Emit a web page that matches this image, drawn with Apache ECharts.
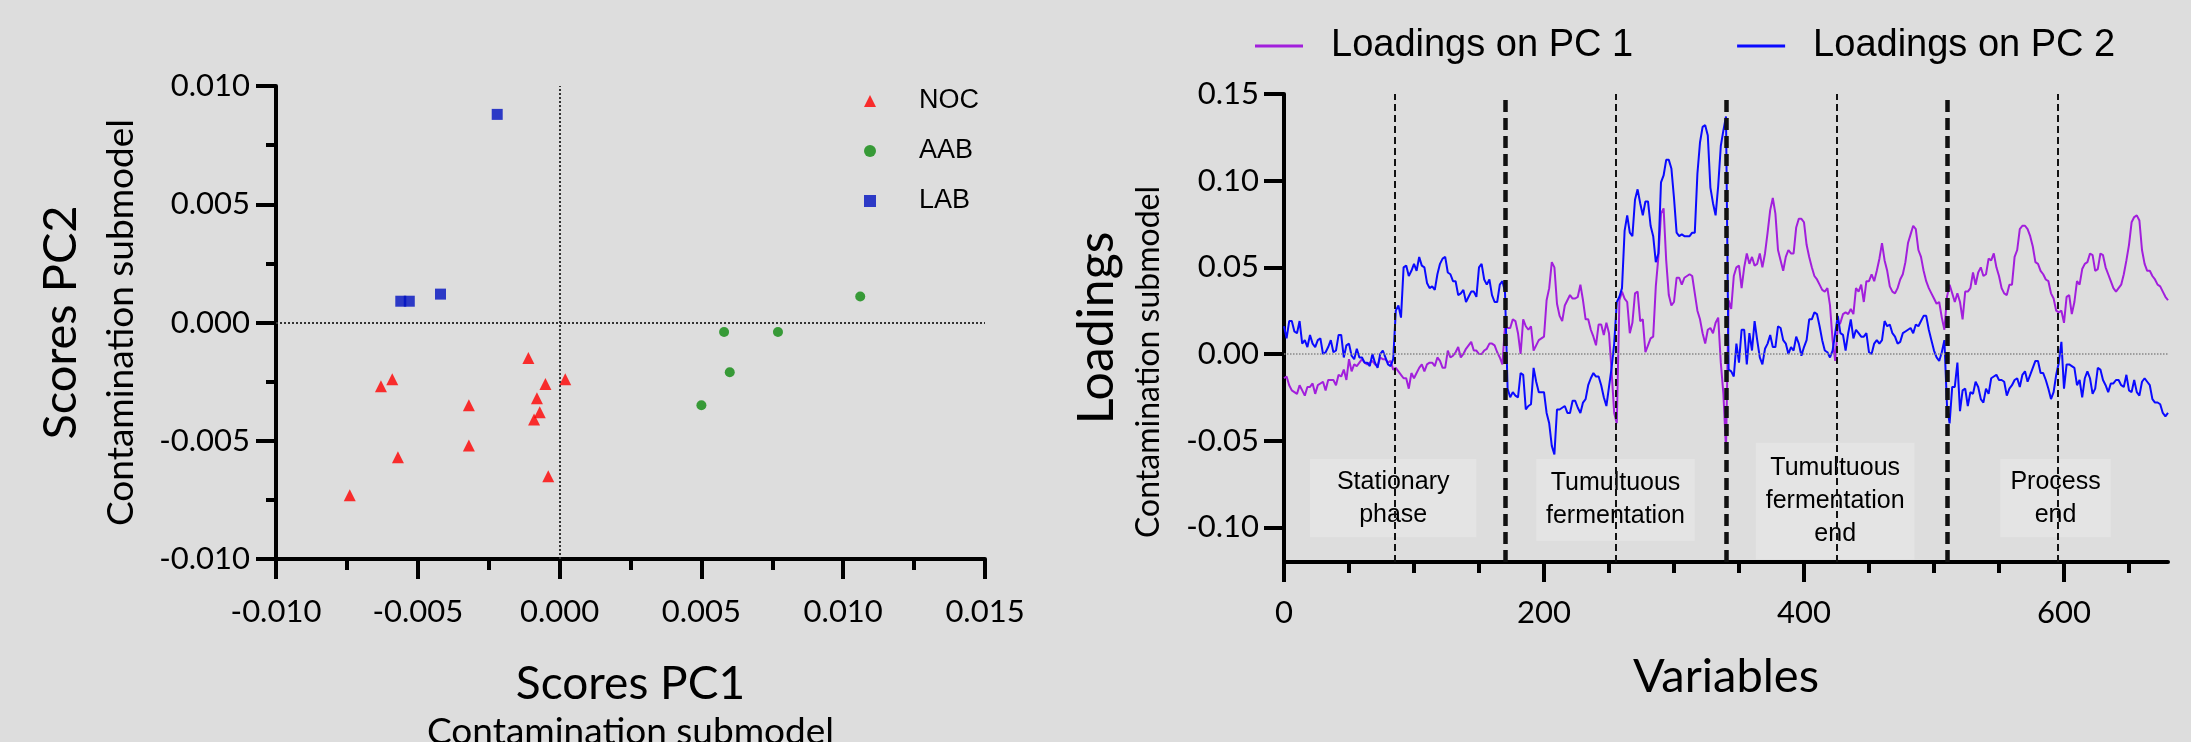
<!DOCTYPE html>
<html>
<head>
<meta charset="utf-8">
<title>Contamination submodel – scores and loadings</title>
<script src="https://cdn.jsdelivr.net/npm/echarts@6.0.0/dist/echarts.min.js"></script>
<style>
  html, body { margin: 0; padding: 0; background: #dddddd; }
  #chart { width: 2191px; height: 742px; }
</style>
</head>
<body>
<div id="chart"></div>
<script>
// scores plot: [PC1, PC2]
const NOC_SCORES = [
  [-0.0011, -0.0015], [-0.0059, -0.0024], [-0.0063, -0.0027], [-0.0005, -0.0026],
  [0.0002, -0.0024], [-0.0032, -0.0035], [-0.0008, -0.0032], [-0.0007, -0.0038],
  [-0.0009, -0.0041], [-0.0032, -0.0052], [-0.0057, -0.0057], [-0.0004, -0.0065],
  [-0.0074, -0.0073]
]
const AAB_SCORES = [[0.0106, 0.0011], [0.0058, -0.0004], [0.0077, -0.0004], [0.0060, -0.0021], [0.0050, -0.0035]]
const LAB_SCORES = [[-0.0022, 0.0088], [-0.0056, 0.0009], [-0.0053, 0.0009], [-0.0042, 0.0012]]

// loadings plot, one value every 2 variables (0 .. 680), one row per phase half
const VARIABLE_STEP = 2
const PC1_LOADINGS = [
  -0.014, -0.013, -0.018, -0.021, -0.022, -0.023, -0.018, -0.021, -0.024, -0.019, -0.019, -0.017, -0.023, -0.018, -0.017,
  -0.016, -0.021, -0.015, -0.015, -0.015, -0.018, -0.012, -0.013, -0.009, -0.015, -0.003, -0.010, -0.006, -0.007, -0.005,
  -0.003, -0.005, -0.006, -0.005, -0.004, -0.006, -0.007, -0.002, -0.003, -0.003, -0.005, -0.004, -0.009,
  -0.008, -0.010, -0.012, -0.014, -0.014, -0.020, -0.011, -0.014, -0.011, -0.008, -0.006, -0.010, -0.006, -0.005, -0.005,
  -0.007, -0.002, -0.004, -0.008, -0.008, 0.002, -0.002, -0.001, 0.001, 0.004, -0.002, 0.000, 0.003, 0.005, 0.007,
  0.002, 0.002, 0.000, 0.000, 0.002, 0.003, 0.006, 0.006, 0.005, 0.001, -0.002, -0.006,
  0.016, 0.015, 0.015, 0.020, 0.019, 0.012, 0.000, 0.020, 0.016, 0.014, 0.016, 0.002, 0.005, 0.008, 0.009,
  0.010, 0.031, 0.038, 0.053, 0.050, 0.029, 0.022, 0.019, 0.028, 0.031, 0.034, 0.032, 0.032, 0.033, 0.040,
  0.031, 0.020, 0.020, 0.014, 0.010, 0.005, 0.017, 0.017, 0.011, 0.018, 0.012, -0.010, -0.034, -0.040,
  0.031, 0.036, 0.032, 0.030, 0.012, 0.018, 0.035, 0.036, 0.019, 0.020, 0.001, 0.005, 0.009, 0.010, 0.039,
  0.056, 0.081, 0.084, 0.054, 0.034, 0.028, 0.030, 0.044, 0.044, 0.040, 0.044, 0.045, 0.046, 0.045, 0.035,
  0.025, 0.020, 0.012, 0.006, 0.014, 0.015, 0.012, 0.018, 0.021, -0.005, -0.023, -0.055,
  0.031, 0.026, 0.045, 0.050, 0.051, 0.038, 0.050, 0.058, 0.052, 0.056, 0.051, 0.052, 0.058, 0.050, 0.058,
  0.070, 0.083, 0.090, 0.081, 0.060, 0.054, 0.048, 0.056, 0.060, 0.058, 0.058, 0.073, 0.078, 0.078, 0.076,
  0.063, 0.056, 0.050, 0.045, 0.043, 0.040, 0.037, 0.036, 0.038, 0.028, 0.008, -0.004,
  0.016, 0.018, 0.023, 0.024, 0.023, 0.026, 0.023, 0.038, 0.036, 0.040, 0.030, 0.042, 0.042, 0.046, 0.042,
  0.048, 0.055, 0.064, 0.054, 0.048, 0.039, 0.036, 0.035, 0.038, 0.043, 0.046, 0.053, 0.064, 0.069, 0.074,
  0.072, 0.060, 0.056, 0.048, 0.042, 0.038, 0.035, 0.032, 0.029, 0.030, 0.021, 0.014,
  0.033, 0.040, 0.035, 0.030, 0.035, 0.030, 0.020, 0.036, 0.036, 0.038, 0.047, 0.040, 0.047, 0.050, 0.045,
  0.046, 0.055, 0.054, 0.058, 0.050, 0.045, 0.038, 0.035, 0.034, 0.040, 0.040, 0.056, 0.060, 0.072, 0.074,
  0.074, 0.072, 0.068, 0.062, 0.053, 0.052, 0.048, 0.046, 0.043, 0.042, 0.035, 0.032,
  0.025, 0.024, 0.025, 0.018, 0.033, 0.034, 0.023, 0.030, 0.042, 0.040, 0.049, 0.052, 0.053, 0.058, 0.057,
  0.048, 0.049, 0.058, 0.057, 0.050, 0.046, 0.042, 0.038, 0.036, 0.038, 0.040, 0.046, 0.054, 0.063, 0.076,
  0.079, 0.080, 0.077, 0.060, 0.052, 0.048, 0.048, 0.045, 0.043, 0.040, 0.039, 0.036, 0.033, 0.031
]
const PC2_LOADINGS = [
  0.016, 0.009, 0.019, 0.019, 0.013, 0.012, 0.019, 0.006, 0.008, 0.004, 0.011, 0.006, 0.004, 0.008, 0.009,
  0.000, 0.001, 0.004, 0.008, 0.001, 0.002, 0.011, 0.011, -0.002, 0.005, 0.006, -0.001, -0.003, 0.003, -0.002,
  -0.002, -0.005, -0.005, -0.007, 0.000, -0.005, -0.008, 0.000, 0.002, -0.002, -0.006, -0.007, -0.003,
  0.025, 0.028, 0.021, 0.050, 0.051, 0.045, 0.048, 0.052, 0.048, 0.056, 0.051, 0.050, 0.041, 0.038, 0.039,
  0.037, 0.046, 0.052, 0.055, 0.056, 0.047, 0.046, 0.042, 0.042, 0.034, 0.035, 0.037, 0.030, 0.033, 0.036,
  0.036, 0.033, 0.050, 0.052, 0.043, 0.040, 0.043, 0.034, 0.030, 0.030, 0.040, 0.042,
  0.036, -0.020, -0.025, -0.022, -0.024, -0.025, -0.011, -0.012, -0.032, -0.030, -0.029, -0.008, -0.016, -0.022, -0.022,
  -0.022, -0.034, -0.040, -0.053, -0.058, -0.032, -0.032, -0.031, -0.030, -0.034, -0.034, -0.027, -0.027, -0.031, -0.034,
  -0.028, -0.026, -0.018, -0.014, -0.011, -0.013, -0.013, -0.018, -0.025, -0.030, -0.019, -0.008, 0.006, 0.030,
  0.033, 0.038, 0.071, 0.080, 0.070, 0.068, 0.089, 0.095, 0.087, 0.080, 0.088, 0.088, 0.074, 0.068, 0.053,
  0.058, 0.099, 0.103, 0.112, 0.112, 0.107, 0.090, 0.070, 0.068, 0.069, 0.068, 0.068, 0.068, 0.070, 0.070,
  0.104, 0.122, 0.131, 0.132, 0.126, 0.096, 0.087, 0.080, 0.097, 0.120, 0.129, 0.137,
  -0.009, -0.010, -0.013, 0.006, -0.005, 0.014, 0.014, -0.006, 0.012, 0.002, 0.019, 0.008, -0.002, -0.006, 0.003,
  0.006, 0.011, 0.004, 0.004, 0.016, 0.015, 0.008, 0.006, 0.000, 0.004, 0.002, 0.010, 0.006, -0.001, 0.004,
  0.008, 0.020, 0.020, 0.024, 0.023, 0.016, 0.008, 0.002, 0.001, -0.002, 0.002, 0.012,
  0.022, 0.012, 0.011, 0.002, 0.012, 0.020, 0.009, 0.014, 0.012, 0.010, 0.010, 0.012, 0.001, 0.000, 0.006,
  0.008, 0.006, 0.008, 0.019, 0.016, 0.017, 0.012, 0.010, 0.006, 0.007, 0.012, 0.013, 0.014, 0.015, 0.012,
  0.017, 0.016, 0.019, 0.022, 0.022, 0.014, 0.008, 0.002, -0.002, -0.004, 0.001, 0.008,
  -0.030, -0.040, -0.019, -0.019, -0.005, -0.033, -0.021, -0.020, -0.030, -0.022, -0.023, -0.016, -0.019, -0.026, -0.028,
  -0.020, -0.023, -0.014, -0.013, -0.012, -0.015, -0.015, -0.016, -0.024, -0.020, -0.018, -0.015, -0.014, -0.019, -0.012,
  -0.010, -0.016, -0.012, -0.008, -0.004, -0.004, -0.011, -0.011, -0.015, -0.020, -0.026, -0.022,
  -0.012, -0.005, 0.007, -0.020, -0.006, -0.006, -0.007, -0.008, -0.018, -0.015, -0.025, -0.014, -0.010, -0.014, -0.023,
  -0.020, -0.008, -0.009, -0.015, -0.018, -0.022, -0.017, -0.017, -0.015, -0.015, -0.018, -0.019, -0.012, -0.021, -0.022,
  -0.015, -0.022, -0.024, -0.016, -0.014, -0.016, -0.018, -0.026, -0.028, -0.028, -0.029, -0.034, -0.036, -0.034
]

const X_MAJOR_TICKS = [0, 200, 400, 600]
const X_MINOR_TICKS = [50, 100, 150, 250, 300, 350, 450, 500, 550, 650]
const Y_TICKS = [-0.10, -0.05, 0.00, 0.05, 0.10, 0.15]
const PHASE_BOUNDARIES = [170, 340, 510]
const PHASE_CENTERS = [85, 255, 425, 595]
const PHASE_NAMES = ['Stationary\nphase', 'Tumultuous\nfermentation', 'Tumultuous\nfermentation\nend', 'Process\nend']

const AXIS_FONT = 'Lato, "Open Sans", sans-serif'
const NOTE_FONT = '"Liberation Sans", Arial, sans-serif'
const BLACK = '#000'

const chart = echarts.init(document.getElementById('chart'))

const variables = PC1_LOADINGS.map((_, i) => i * VARIABLE_STEP)

function axisBase(extra) {
  return Object.assign({
    type: 'value',
    splitLine: { show: false },
    axisLine: { show: true, onZero: false, lineStyle: { color: BLACK, width: 4 } },
    axisTick: { show: true, length: 20, lineStyle: { color: BLACK, width: 4 } },
    axisLabel: { color: BLACK, fontSize: 31, fontFamily: AXIS_FONT },
    nameLocation: 'middle'
  }, extra)
}

// boxes behind the phase names, in data units of the loadings plot
const boxes = [
  [20, 148, -0.0606, -0.1057],
  [194, 316, -0.0606, -0.1078],
  [363, 485, -0.0512, -0.1185],
  [551, 636, -0.0606, -0.1057]
]

chart.setOption({
  animation: false,
  backgroundColor: '#dddddd',
  grid: [
    { left: 276, top: 86, width: 709, height: 473, outerBoundsMode: 'none' },
    { left: 1284, top: 94, width: 884, height: 468, outerBoundsMode: 'none' }
  ],
  legend: [
    {
      data: ['NOC', 'AAB', 'LAB'],
      orient: 'vertical',
      left: 859,
      top: 81,
      itemWidth: 12,
      itemHeight: 12,
      itemGap: 20,
      textStyle: { fontSize: 27, lineHeight: 30, color: BLACK, fontFamily: NOTE_FONT, padding: [0, 0, 0, 38] }
    },
    {
      data: ['Loadings on PC 1', 'Loadings on PC 2'],
      left: 1250,
      top: 22,
      icon: 'rect',
      itemWidth: 48,
      itemHeight: 3,
      itemGap: 104,
      textStyle: { fontSize: 38, color: BLACK, fontFamily: NOTE_FONT, padding: [0, 0, 0, 23] }
    }
  ],
  xAxis: [
    axisBase({
      gridIndex: 0,
      min: -0.01,
      max: 0.015,
      interval: 0.005,
      minorTick: { show: true, splitNumber: 2, length: 11, lineStyle: { color: BLACK, width: 4 } },
      axisLabel: { color: BLACK, fontSize: 31, fontFamily: AXIS_FONT, margin: 37, formatter: v => v.toFixed(3) },
      name: '{a|Scores PC1}\n{b|Contamination submodel}',
      nameGap: 97,
      nameTextStyle: { rich: {
        a: { fontSize: 46, lineHeight: 56, color: BLACK, fontFamily: AXIS_FONT },
        b: { fontSize: 37, lineHeight: 40, color: BLACK, fontFamily: AXIS_FONT }
      } }
    }),
    axisBase({
      gridIndex: 1,
      min: 0,
      max: 680,
      axisTick: { show: true, customValues: X_MAJOR_TICKS, length: 20, lineStyle: { color: BLACK, width: 4 } },
      axisLabel: { customValues: X_MAJOR_TICKS, color: BLACK, fontSize: 31, fontFamily: AXIS_FONT, margin: 35 },
      name: 'Variables',
      nameGap: 87,
      nameTextStyle: { fontSize: 47, lineHeight: 56, color: BLACK, fontFamily: AXIS_FONT }
    }),
    axisBase({
      gridIndex: 1,
      min: 0,
      max: 680,
      position: 'bottom',
      axisLine: { show: false, onZero: false },
      axisTick: { show: true, customValues: X_MINOR_TICKS, length: 11, lineStyle: { color: BLACK, width: 4 } },
      axisLabel: { show: false }
    })
  ],
  yAxis: [
    axisBase({
      gridIndex: 0,
      min: -0.01,
      max: 0.01,
      interval: 0.005,
      minorTick: { show: true, splitNumber: 2, length: 10, lineStyle: { color: BLACK, width: 4 } },
      axisLabel: { color: BLACK, fontSize: 31, fontFamily: AXIS_FONT, margin: 26, formatter: v => v.toFixed(3) },
      name: '{a|Scores PC2}\n{b|Contamination submodel}',
      nameRotate: 90,
      nameGap: 133,
      nameTextStyle: { rich: {
        a: { fontSize: 47, lineHeight: 76, color: BLACK, fontFamily: AXIS_FONT },
        b: { fontSize: 37, lineHeight: 44, color: BLACK, fontFamily: AXIS_FONT }
      } }
    }),
    axisBase({
      gridIndex: 1,
      min: -0.12,
      max: 0.15,
      axisTick: { show: true, customValues: Y_TICKS, length: 20, lineStyle: { color: BLACK, width: 4 } },
      axisLabel: { customValues: Y_TICKS, color: BLACK, fontSize: 31, fontFamily: AXIS_FONT, margin: 25, formatter: v => v.toFixed(2) },
      name: '{a|Loadings}\n{b|Contamination submodel}',
      nameRotate: 90,
      nameGap: 116,
      nameTextStyle: { rich: {
        a: { fontSize: 50, lineHeight: 66, color: BLACK, fontFamily: AXIS_FONT },
        b: { fontSize: 32, lineHeight: 38, color: BLACK, fontFamily: AXIS_FONT, padding: [0, 68, 0, 0] }
      } }
    })
  ],
  series: [
    {
      name: 'NOC',
      type: 'scatter',
      xAxisIndex: 0,
      yAxisIndex: 0,
      symbol: 'triangle',
      symbolSize: 12,
      itemStyle: { color: '#ff0000' },
      data: NOC_SCORES,
      markLine: {
        silent: true,
        symbol: 'none',
        label: { show: false },
        lineStyle: { type: 'dotted', color: '#333', width: 2 },
        data: [{ xAxis: 0 }, { yAxis: 0 }]
      }
    },
    {
      name: 'AAB',
      type: 'scatter',
      xAxisIndex: 0,
      yAxisIndex: 0,
      symbol: 'circle',
      symbolSize: 10,
      itemStyle: { color: '#0e8a0e' },
      data: AAB_SCORES
    },
    {
      name: 'LAB',
      type: 'scatter',
      xAxisIndex: 0,
      yAxisIndex: 0,
      symbol: 'rect',
      symbolSize: [11, 11],
      itemStyle: { color: '#0010c0' },
      data: LAB_SCORES
    },
    {
      name: 'phase lines',
      type: 'line',
      xAxisIndex: 1,
      yAxisIndex: 1,
      data: [],
      z: 1,
      markLine: {
        silent: true,
        symbol: 'none',
        label: { show: false },
        data: [
          { yAxis: 0, lineStyle: { type: 'dotted', color: '#888', width: 1.5 } },
          ...PHASE_CENTERS.map(v => ({ xAxis: v, lineStyle: { type: [7, 4], color: '#111', width: 2 } })),
          ...PHASE_BOUNDARIES.map(v => ({ xAxis: v, lineStyle: { type: [12, 6], color: '#111', width: 4.5 } }))
        ]
      }
    },
    {
      name: 'phase names',
      type: 'line',
      xAxisIndex: 1,
      yAxisIndex: 1,
      data: [],
      z: 2,
      markArea: {
        silent: true,
        itemStyle: { color: '#e4e4e4' },
        label: { show: true, position: 'inside', color: BLACK, fontSize: 25, lineHeight: 33, fontFamily: NOTE_FONT },
        data: boxes.map((b, i) => [
          { name: PHASE_NAMES[i], coord: [b[0], b[2]] },
          { coord: [b[1], b[3]] }
        ])
      }
    },
    {
      name: 'Loadings on PC 1',
      type: 'line',
      xAxisIndex: 1,
      yAxisIndex: 1,
      z: 3,
      showSymbol: false,
      symbol: 'none',
      color: '#a21fdc',
      lineStyle: { width: 2, color: '#a21fdc' },
      data: variables.map((v, i) => [v, PC1_LOADINGS[i]])
    },
    {
      name: 'Loadings on PC 2',
      type: 'line',
      xAxisIndex: 1,
      yAxisIndex: 1,
      z: 4,
      showSymbol: false,
      symbol: 'none',
      color: '#0a0aff',
      lineStyle: { width: 2, color: '#0a0aff' },
      data: variables.map((v, i) => [v, PC2_LOADINGS[i]])
    }
  ]
})
</script>
</body>
</html>
